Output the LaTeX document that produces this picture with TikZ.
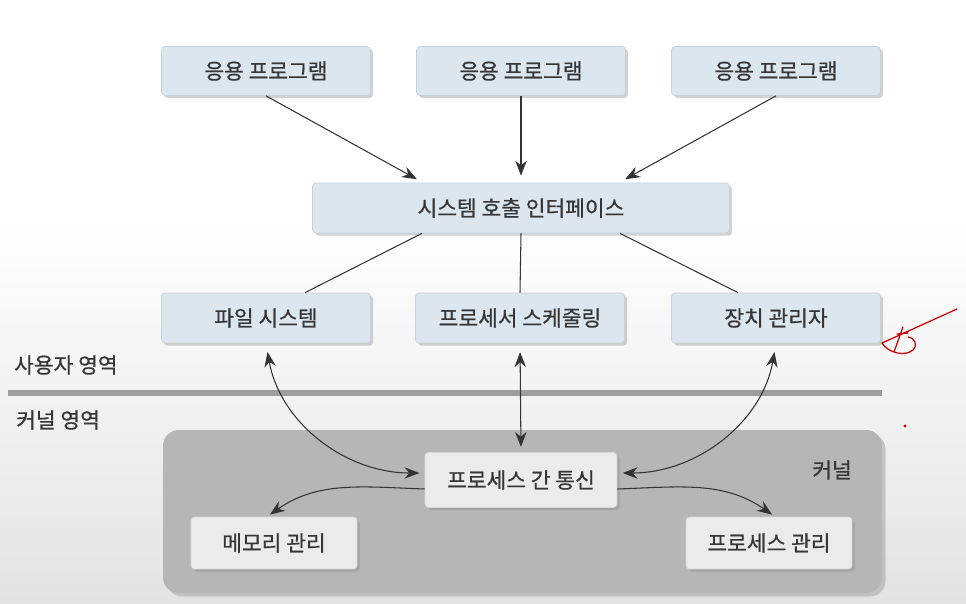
\documentclass[tikz,border=0pt]{standalone}
\usepackage{fontspec}
\setmainfont{Noto Sans CJK KR}[FakeBold=0.6]
\usetikzlibrary{arrows.meta,shadows}

\definecolor{boxblue}{HTML}{DCE6EE}
\definecolor{boxline}{HTML}{C6D2DB}
\definecolor{kerngray}{HTML}{B6B6B6}
\definecolor{kernbox}{HTML}{EBEBEB}
\definecolor{txtgray}{HTML}{363636}

\begin{document}
\begin{tikzpicture}[x=0.02cm, y=-0.02cm, font=\fontsize{12.2}{14}\selectfont,
    >={Stealth[length=8.5pt,width=6.5pt]},
    ubox/.style={draw=boxline, fill=boxblue, rounded corners=2pt, text=txtgray,
      minimum width=4.18cm, minimum height=0.98cm,
      drop shadow={shadow xshift=1.5pt, shadow yshift=-1.5pt, opacity=0.35}},
    kbox/.style={draw=black!15, fill=kernbox, rounded corners=2pt, text=txtgray,
      minimum width=3.32cm, minimum height=1.04cm,
      drop shadow={shadow xshift=1.5pt, shadow yshift=-1.5pt, opacity=0.35}},
    link/.style={draw=black!80, line width=0.6pt}]

  % ----- background -----
  \useasboundingbox (0,0) rectangle (966,604);
  \fill[white] (0,0) rectangle (966,604);
  \shade[top color=white, bottom color=black!11] (0,220) rectangle (966,604);

  % ----- user area -----
  \node[ubox] (app1) at (266,71) {응용 프로그램};
  \node[ubox] (app2) at (521,71) {응용 프로그램};
  \node[ubox] (app3) at (776,71) {응용 프로그램};

  \node[ubox, minimum width=8.34cm, minimum height=1.0cm] (sci) at (521,208)
    {시스템 호출 인터페이스};

  \node[ubox, minimum height=1.0cm] (fs) at (266,318) {파일 시스템};
  \node[ubox, minimum height=1.0cm] (ps) at (520,318) {프로세서 스케줄링};
  \node[ubox, minimum height=1.0cm] (dm) at (776,318) {장치 관리자};

  \draw[link, ->, shorten >=4pt] (app1.south) -- ([xshift=-1.96cm]sci.north);
  \draw[link, ->, shorten >=4pt] (app2.south) -- (sci.north);
  \draw[link, ->, shorten >=4pt] (app3.south) -- ([xshift=1.96cm]sci.north);

  \draw[link] ([xshift=-1.98cm]sci.south) -- ([xshift=0.78cm]fs.north);
  \draw[link] (sci.south) -- (ps.north);
  \draw[link] ([xshift=1.98cm]sci.south) -- ([xshift=-0.76cm]dm.north);

  % ----- divider -----
  \node[anchor=west, text=txtgray] (ua) at (8,365) {사용자 영역};
  \draw[line width=3.4pt, black!38] (8,393) -- (882,393);
  \node[anchor=west, text=txtgray] (ka) at (10,420) {커널 영역};

  % ----- kernel -----
  \path[fill=kerngray, rounded corners=9pt,
    drop shadow={shadow xshift=2pt, shadow yshift=-2pt, opacity=0.35}]
    (163,430) rectangle (882,593);
  \node[text=txtgray] (kern) at (832,470) {커널};

  \node[kbox, minimum width=3.84cm, minimum height=1.1cm] (ipc) at (521,480)
    {프로세스 간 통신};
  \node[kbox] (mem) at (274,543) {메모리 관리};
  \node[kbox] (pm) at (769,543) {프로세스 관리};

  \draw[link, <->, shorten <=5pt, shorten >=3pt]
    (fs.south) to[out=-80, in=180] ([yshift=0.14cm]ipc.west);
  \draw[link, <->, shorten <=5pt, shorten >=3pt] (ps.south) -- (ipc.north);
  \draw[link, <->, shorten <=5pt, shorten >=3pt]
    (dm.south) to[out=-100, in=0] ([yshift=0.14cm]ipc.east);

  \draw[link, ->, shorten >=2pt]
    ([yshift=-0.18cm]ipc.west) to[out=178, in=35] ([xshift=-0.14cm]mem.north);
  \draw[link, ->, shorten >=2pt]
    ([yshift=-0.18cm]ipc.east) to[out=2, in=145] ([xshift=0.12cm]pm.north);

  % ----- red pen marks -----
  \draw[red!80!black, line width=0.7pt, line cap=round, line join=round]
    (957,309) -- (882,343)
    (882,343) .. controls (888,353) and (905,357) .. (913,350)
      .. controls (918,345) and (915,338) .. (908,337)
    (894,352) -- (903,327)
    (897,334) -- (908,333);
  \fill[red!80!black] (905,426) circle (1.6);
\end{tikzpicture}
\end{document}
